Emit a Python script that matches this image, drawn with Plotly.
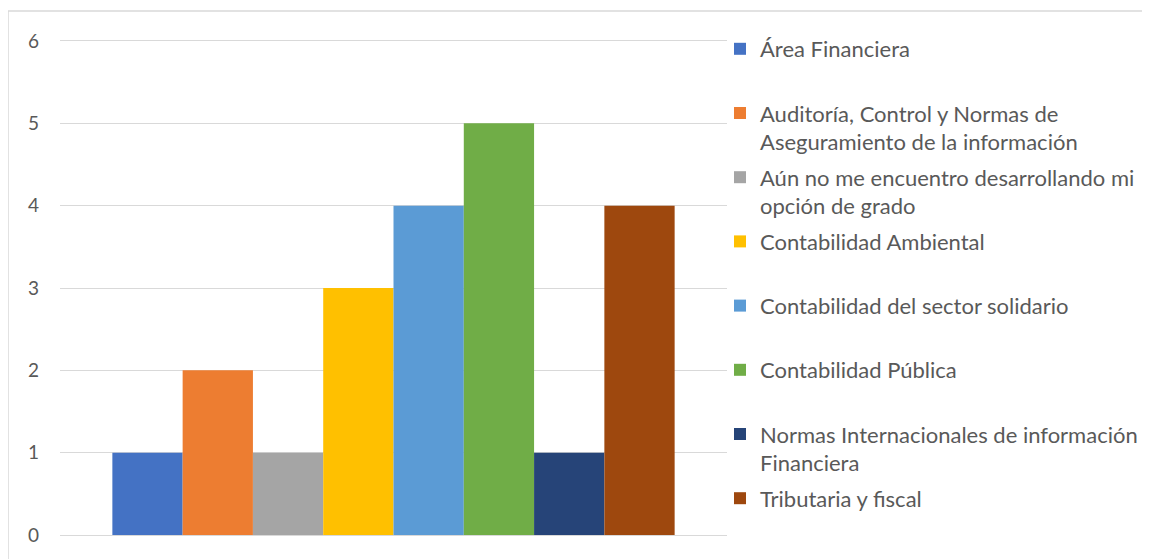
import plotly.graph_objects as go

categories = [""]
series_names = [
    "Área Financiera",
    "Auditoría, Control y Normas de<br>Aseguramiento de la información",
    "Aún no me encuentro desarrollando mi<br>opción de grado",
    "Contabilidad Ambiental",
    "Contabilidad del sector solidario",
    "Contabilidad Pública",
    "Normas Internacionales de información<br>Financiera",
    "Tributaria y fiscal",
]
series_values = [1, 2, 1, 3, 4, 5, 1, 4]
series_colors = ["#4472C4", "#ED7D31", "#A5A5A5", "#FFC000",
                 "#5B9BD5", "#70AD47", "#264478", "#9E480E"]
y_ticks = [0, 1, 2, 3, 4, 5, 6]

# page body adds an 8px offset; margins are compensated for it
W, H = 1150, 559
ML, MR, MT, MB = 52, 431, 33, 32
PW = W - ML - MR
PH = H - MT - MB

fig = go.Figure()
for i, (name, val, col) in enumerate(zip(series_names, series_values, series_colors)):
    label = name if "<br>" in name else name + "<br>\u00a0"
    fig.add_trace(go.Bar(
        x=categories, y=[val], name=label, marker_color=col,
        marker_line_width=0, legendgroup=f"g{i}",
    ))

fig.update_layout(
    width=W, height=H,
    margin=dict(l=ML, r=MR, t=MT, b=MB),
    paper_bgcolor="white", plot_bgcolor="white",
    barmode="group", bargap=0.157, bargroupgap=0,
    font=dict(family="Lato", color="#595959", size=19),
    showlegend=True,
    legend=dict(
        x=(712 - ML) / PW, xanchor="left",
        y=(H - MB - 20) / PH, yanchor="top",
        font=dict(family="Lato", size=22, color="#595959"),
        tracegroupgap=4, valign="top", maxheight=600,
        bgcolor="rgba(0,0,0,0)",
    ),
    xaxis=dict(showticklabels=False, showgrid=False, zeroline=False,
               showline=True, mirror=True, linecolor="#d9d9d9", linewidth=1,
               ticks=""),
    yaxis=dict(range=[0, 6], tickvals=y_ticks, showgrid=True,
               gridcolor="#d9d9d9", gridwidth=1, zeroline=True,
               zerolinecolor="#d9d9d9", zerolinewidth=1, showline=False,
               ticks="", ticklabelstandoff=20,
               tickfont=dict(family="Lato", size=19, color="#595959")),
    shapes=[dict(type="rect", xref="paper", yref="paper",
                 x0=(0 - ML) / PW, x1=(W + 20 - ML) / PW,
                 y0=(H - MB - (H + 20)) / PH, y1=(H - MB - 3) / PH,
                 line=dict(color="#d9d9d9", width=1.5), layer="below")],
)

fig.write_html("out.html")
